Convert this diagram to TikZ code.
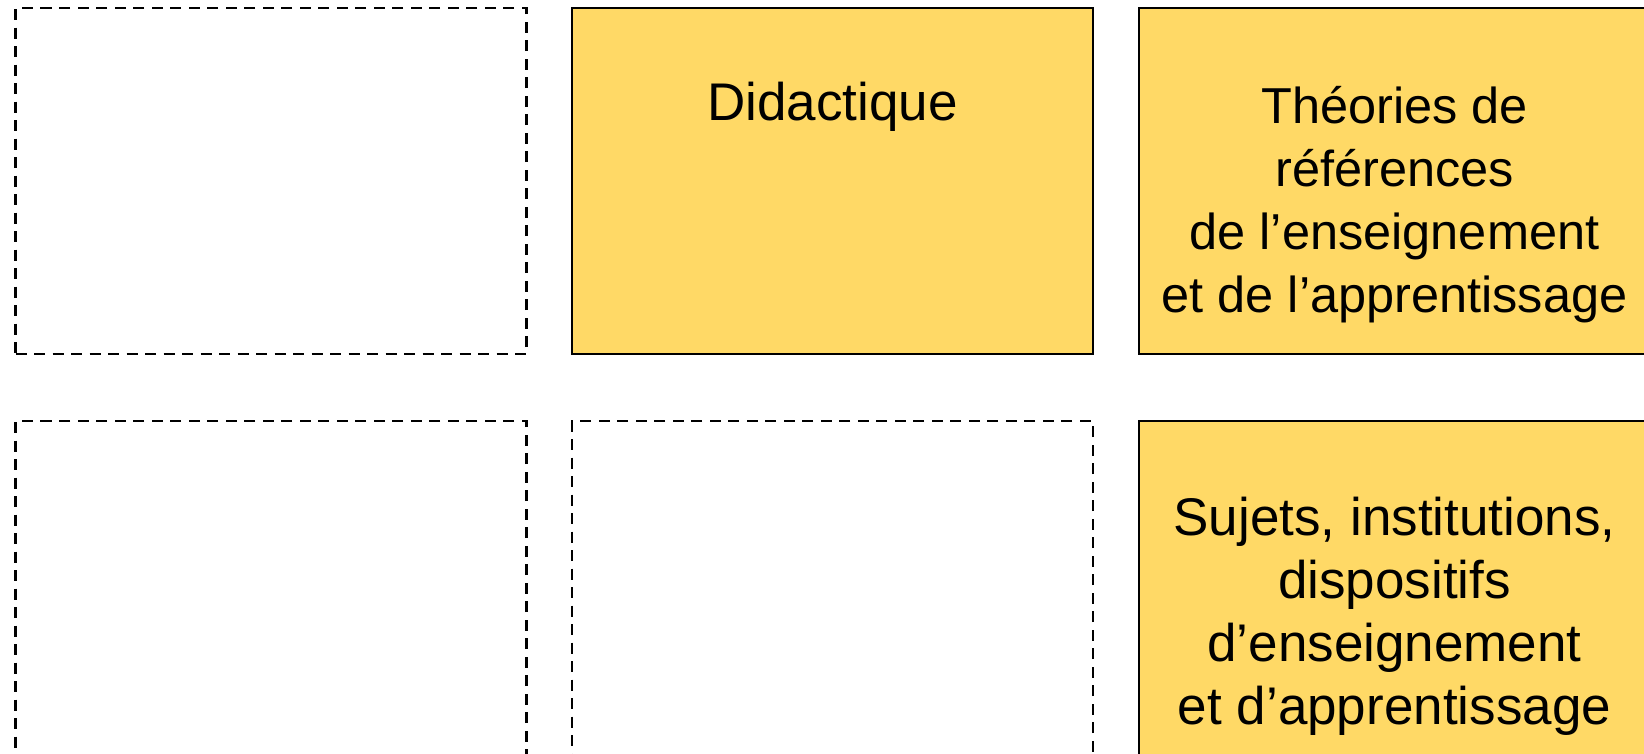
\documentclass[tikz,border=0pt]{standalone}
\usepackage{fontspec}
\setmainfont{Liberation Sans}
\usepackage{tikz}
\usetikzlibrary{positioning}
\definecolor{gold}{HTML}{FFD966}

\begin{document}
\begin{tikzpicture}[
            x = 1pt, y = -1pt, % pixel units, y going down
            node distance = 46pt, % gap between boxes
            line width = 2.2pt
        ]

        \tikzstyle{every node}=[inner sep = 0, outer sep = 0]
        \tikzstyle{cell}=[
            rectangle,
            minimum width = 511pt,
            minimum height = 346pt
        ]
        \tikzstyle{wide}=[minimum width = 521pt]
        \tikzstyle{emptycell}=[cell, draw, dash pattern = on 11pt off 7.5pt]
        \tikzstyle{goldcell}=[cell, draw, fill = gold]
        \tikzstyle{txt}=[align = center, font = \fontsize{53}{63}\selectfont]
        \tikzstyle{smalltxt}=[txt, font = \fontsize{50.5}{63}\selectfont]

        \useasboundingbox (0,0) rectangle (1644,753);

	% first row
        \node[emptycell] (E1) at (271,181) {};
        \node[goldcell, wide] (D) [right = 45.5pt of E1] {};
        \node[goldcell] (T) [right = of D] {};

        % second row
        \node[emptycell] (E2) [below = 67pt of E1] {};
        \node[emptycell, wide] (E3) [right = 45.5pt of E2] {};
        \node[goldcell] (S) [right = of E3] {};

         % texts
         \node[txt] (Dt) [below = 74.5pt of D.north] {Didactique};
         \node[smalltxt] (Tt) [below = 78.5pt of T.north] {Théories de\\références\\de l’enseignement\\et de l’apprentissage};
         \node[txt] (St) [below = 76pt of S.north] {Sujets, institutions,\\dispositifs\\d’enseignement\\et d’apprentissage};

  \end{tikzpicture}
\end{document}
